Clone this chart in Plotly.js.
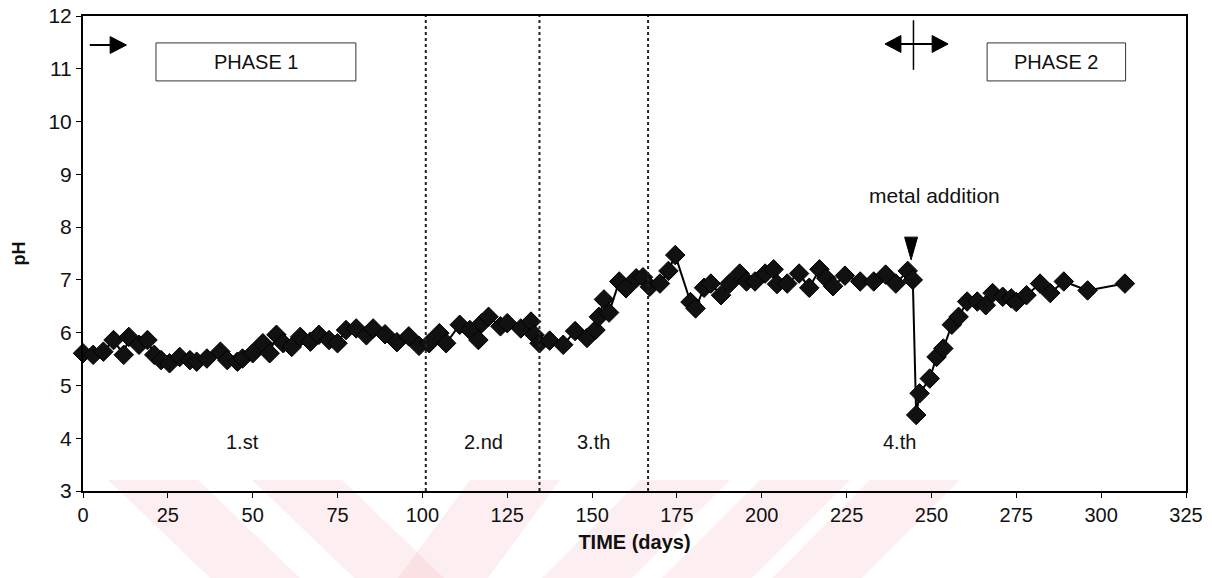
<!DOCTYPE html>
<html>
<head>
<meta charset="utf-8">
<script src="https://cdn.plot.ly/plotly-3.0.1.min.js"></script>
<style>
html,body{margin:0;padding:0;background:#fff;}
#chart{width:1212px;height:578px;}
</style>
</head>
<body>
<div id="chart"></div>
<script>
// ---- data ----
var days = [0,3,6,9,12,13.5,16.5,19,21,23,25.5,28.5,31.5,33.5,36.5,40.5,42.5,45.5,47,50,
  53,55,57,59,61.5,64,67,69.5,72.5,75,77.5,80.5,83.5,85.5,89,92.5,96,99,102,105,
  107,111,114,116.5,117.5,119.5,123,125,129,132,133,134.5,137.5,141.5,145,148.5,151,152,153.5,155,
  158,160,163,165,167,170,172.5,174.5,179,180.5,183,185,188,190.5,193.5,195.5,198,201,203.5,204.5,
  207.5,211,214,217,219,221,224.5,229,233,236.5,239.5,243,244.5,245.5,246.5,249.5,251.5,253.5,256,258,
  260.5,263.5,266,268,271,273.5,275,278,282,285,289,296,307];
var ph = [5.61,5.58,5.64,5.86,5.58,5.92,5.77,5.86,5.58,5.48,5.42,5.54,5.48,5.45,5.51,5.64,5.48,5.45,5.51,5.61,
  5.80,5.61,5.96,5.80,5.73,5.92,5.83,5.96,5.86,5.80,6.05,6.08,5.95,6.08,5.97,5.82,5.93,5.75,5.80,5.99,
  5.80,6.15,6.05,5.86,6.18,6.30,6.12,6.18,6.08,6.21,5.96,5.80,5.85,5.77,6.03,5.90,6.05,6.30,6.63,6.38,
  6.97,6.84,7.03,7.05,6.87,6.93,7.17,7.47,6.58,6.46,6.85,6.93,6.71,6.93,7.12,6.97,6.97,7.12,7.20,6.92,
  6.93,7.12,6.85,7.20,7.03,6.88,7.08,6.97,6.97,7.10,6.93,7.17,7.00,4.44,4.85,5.13,5.54,5.70,6.15,6.30,
  6.59,6.59,6.52,6.75,6.68,6.65,6.58,6.71,6.93,6.75,6.97,6.80,6.93];

var xTicks = [0,25,50,75,100,125,150,175,200,225,250,275,300,325];
var yTicks = [3,4,5,6,7,8,9,10,11,12];
var stageBounds = [101, 134.5, 166.5];
var stageLabels = ['1.st','2.nd','3.th','4.th'];
var stageLabelX = [47, 118, 150.5, 240.5];
var metalDay = 244.7;

var font = 'Liberation Sans, Arial, sans-serif';

var trace = {
  x: days, y: ph, type: 'scatter', mode: 'lines+markers',
  line: {color: '#000', width: 2},
  marker: {symbol: 'diamond', size: 15, color: '#111', line: {color: '#000', width: 1}},
  hoverinfo: 'skip', showlegend: false, cliponaxis: false
};

var shapes = [];
stageBounds.forEach(function(b){
  shapes.push({type:'line', xref:'x', yref:'y', x0:b, x1:b, y0:3, y1:12,
    line:{color:'#222', width:2, dash:'dot'}});
});
// phase boxes
shapes.push({type:'rect', xref:'x', yref:'y', x0:21.5, x1:80.4, y0:10.77, y1:11.49,
  line:{color:'#333', width:1}, fillcolor:'rgba(0,0,0,0)'});
shapes.push({type:'rect', xref:'x', yref:'y', x0:266.4, x1:307.2, y0:10.77, y1:11.49,
  line:{color:'#333', width:1}, fillcolor:'rgba(0,0,0,0)'});
// phase 1 arrow
shapes.push({type:'line', xref:'x', yref:'y', x0:2, x1:9, y0:11.45, y1:11.45, line:{color:'#000', width:2}});
shapes.push({type:'path', xref:'x', yref:'y', path:'M 8.0,11.61 L 12.8,11.45 L 8.0,11.29 Z',
  fillcolor:'#000', line:{color:'#000', width:1}});
// phase 2 double arrow
shapes.push({type:'line', xref:'x', yref:'y', x0:metalDay, x1:metalDay, y0:10.98, y1:11.92, line:{color:'#000', width:1.5}});
shapes.push({type:'line', xref:'x', yref:'y', x0:239, x1:251, y0:11.47, y1:11.47, line:{color:'#000', width:2}});
shapes.push({type:'path', xref:'x', yref:'y', path:'M 241.0,11.63 L 236.3,11.47 L 241.0,11.31 Z',
  fillcolor:'#000', line:{color:'#000', width:1}});
shapes.push({type:'path', xref:'x', yref:'y', path:'M 250.2,11.63 L 254.9,11.47 L 250.2,11.31 Z',
  fillcolor:'#000', line:{color:'#000', width:1}});
// metal addition down triangle
shapes.push({type:'path', xref:'x', yref:'y', path:'M 242.1,7.81 L 245.9,7.81 L 244.0,7.38 Z',
  fillcolor:'#000', line:{color:'#000', width:1}});

// watermark (faint pink chevrons below the plot)
var wm = 'rgba(236,120,140,0.12)';
function px(x){return (x-83)/1103;}
function py(y){return (491-y)/475;}
function poly(pts){
  return 'M ' + pts.map(function(p){return px(p[0]).toFixed(4)+','+py(p[1]).toFixed(4);}).join(' L ') + ' Z';
}
[[[108,480],[198,480],[300,578],[210,578]],
 [[252,480],[342,480],[444,578],[354,578]],
 [[470,480],[560,480],[488,578],[398,578]],
 [[640,480],[730,480],[632,578],[542,578]],
 [[760,480],[850,480],[752,578],[662,578]],
 [[870,480],[960,480],[862,578],[772,578]]
].forEach(function(p){
  shapes.push({type:'path', xref:'paper', yref:'paper', path:poly(p), fillcolor:wm, line:{width:0}, layer:'below'});
});

var annotations = [];
stageLabels.forEach(function(t,i){
  annotations.push({x:stageLabelX[i], y:3.92, xref:'x', yref:'y', text:t, showarrow:false,
    font:{family:font, size:20, color:'#111'}});
});
annotations.push({x:51, y:11.13, xref:'x', yref:'y', text:'PHASE 1', showarrow:false,
  font:{family:font, size:20, color:'#111'}});
annotations.push({x:286.8, y:11.13, xref:'x', yref:'y', text:'PHASE 2', showarrow:false,
  font:{family:font, size:20, color:'#111'}});
annotations.push({x:251, y:8.6, xref:'x', yref:'y', text:'metal addition', showarrow:false,
  font:{family:font, size:21, color:'#111'}});

var layout = {
  width: 1212, height: 578,
  margin: {l:83, r:26, t:16, b:87},
  paper_bgcolor: '#fff', plot_bgcolor: '#fff',
  font: {family: font, color: '#111'},
  xaxis: {range:[0,325], tickvals:xTicks, ticktext:xTicks.map(String), showgrid:false, zeroline:false,
    showline:true, mirror:true, linecolor:'#000', linewidth:2, ticks:'outside', ticklen:5, tickcolor:'#000',
    tickfont:{family:font, size:20, color:'#111'},
    title:{text:'<b>TIME (days)</b>', font:{family:font, size:20, color:'#111'}, standoff:10}},
  yaxis: {range:[3,12], tickvals:yTicks, ticktext:yTicks.map(String), showgrid:false, zeroline:false,
    showline:true, mirror:true, linecolor:'#000', linewidth:2, ticks:'outside', ticklen:5, tickcolor:'#000',
    tickfont:{family:font, size:21, color:'#111'},
    title:{text:'<b>pH</b>', font:{family:font, size:18, color:'#111'}, standoff:18}},
  shapes: shapes,
  annotations: annotations
};

Plotly.newPlot('chart', [trace], layout, {staticPlot:true, displayModeBar:false});
</script>
</body>
</html>
